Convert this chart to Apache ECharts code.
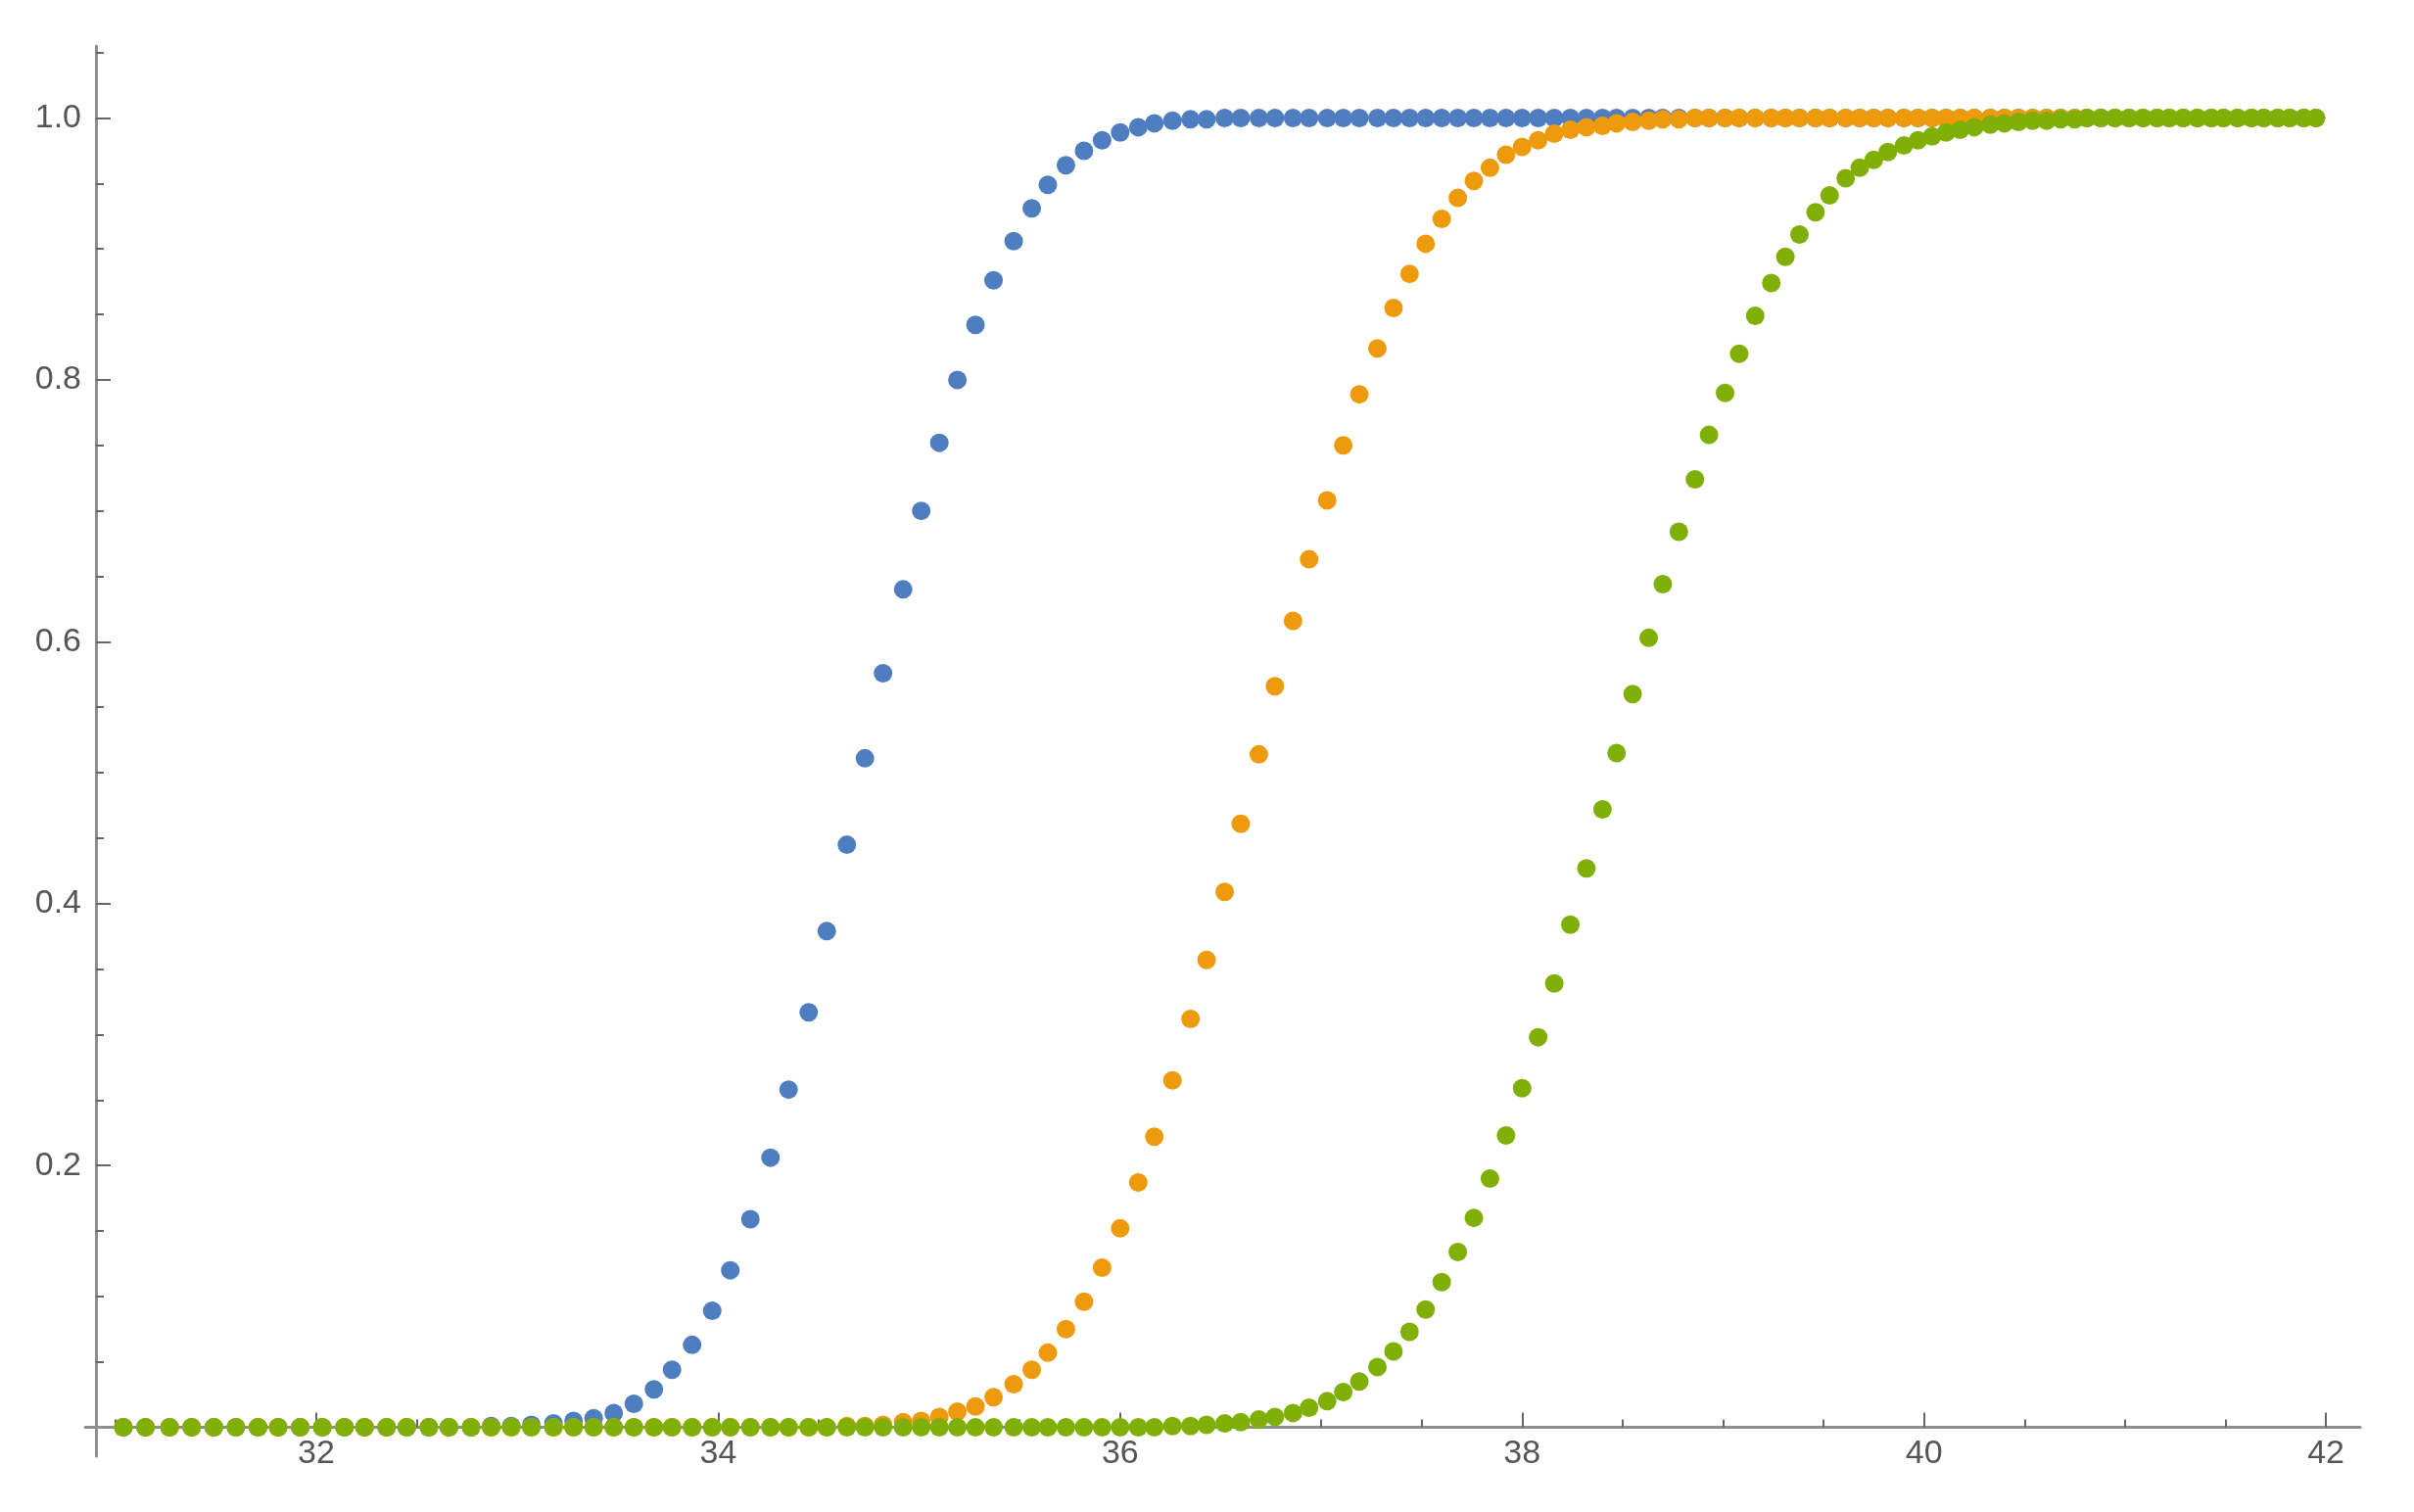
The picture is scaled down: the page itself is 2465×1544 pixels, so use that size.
<!DOCTYPE html>
<html>
<head>
<meta charset="utf-8">
<title>Three CDF point series</title>
<script src="https://cdn.jsdelivr.net/npm/echarts@6/dist/echarts.min.js"></script>
<style>
  html, body { margin: 0; padding: 0; background: #fff; }
  #chart { width: 2465px; height: 1544px; }
</style>
</head>
<body>
<div id="chart"></div>
<script>
// x positions of the sample points (shared by all three series)
var xValues = [
  31.04, 31.15, 31.27, 31.38, 31.49, 31.60, 31.71, 31.81, 31.92, 32.03,
  32.14, 32.24, 32.35, 32.45, 32.56, 32.66, 32.77, 32.87, 32.97, 33.07,
  33.18, 33.28, 33.38, 33.48, 33.58, 33.68, 33.77, 33.87, 33.97, 34.06,
  34.16, 34.26, 34.35, 34.45, 34.54, 34.64, 34.73, 34.82, 34.92, 35.01,
  35.10, 35.19, 35.28, 35.37, 35.47, 35.56, 35.64, 35.73, 35.82, 35.91,
  36.00, 36.09, 36.17, 36.26, 36.35, 36.43, 36.52, 36.60, 36.69, 36.77,
  36.86, 36.94, 37.03, 37.11, 37.19, 37.28, 37.36, 37.44, 37.52, 37.60,
  37.68, 37.76, 37.84, 37.92, 38.00, 38.08, 38.16, 38.24, 38.32, 38.40,
  38.47, 38.55, 38.63, 38.70, 38.78, 38.86, 38.93, 39.01, 39.08, 39.16,
  39.24, 39.31, 39.38, 39.46, 39.53, 39.61, 39.68, 39.75, 39.82, 39.90,
  39.97, 40.04, 40.11, 40.18, 40.25, 40.33, 40.40, 40.47, 40.54, 40.61,
  40.68, 40.75, 40.81, 40.88, 40.95, 41.02, 41.09, 41.16, 41.22, 41.29,
  41.36, 41.43, 41.49, 41.56, 41.63, 41.69, 41.76, 41.82, 41.89, 41.95
];

var blueValues = [
  0, 0, 0, 0, 0, 0, 0, 0, 0, 0,
  0, 0, 0, 0, 0, 0, 0, 0.001, 0.001, 0.002,
  0.003, 0.005, 0.007, 0.011, 0.018, 0.029, 0.044, 0.063, 0.089, 0.120,
  0.159, 0.206, 0.258, 0.317, 0.379, 0.445, 0.511, 0.576, 0.640, 0.700,
  0.752, 0.800, 0.842, 0.876, 0.906, 0.931, 0.949, 0.964, 0.975, 0.983,
  0.989, 0.993, 0.996, 0.998, 0.999, 0.999, 1, 1, 1, 1,
  1, 1, 1, 1, 1, 1, 1, 1, 1, 1,
  1, 1, 1, 1, 1, 1, 1, 1, 1, 1,
  1, 1, 1, 1, 1, 1, 1, 1, 1, 1,
  1, 1, 1, 1, 1, 1, 1, 1, 1, 1,
  1, 1, 1, 1, 1, 1, 1, 1, 1, 1,
  1, 1, 1, 1, 1, 1, 1, 1, 1, 1,
  1, 1, 1, 1, 1, 1, 1, 1, 1, 1
];

var orangeValues = [
  0, 0, 0, 0, 0, 0, 0, 0, 0, 0,
  0, 0, 0, 0, 0, 0, 0, 0, 0, 0,
  0, 0, 0, 0, 0, 0, 0, 0, 0, 0,
  0, 0, 0, 0, 0, 0.001, 0.001, 0.002, 0.004, 0.005,
  0.008, 0.012, 0.016, 0.023, 0.033, 0.044, 0.057, 0.075, 0.096, 0.122,
  0.152, 0.187, 0.222, 0.265, 0.312, 0.357, 0.409, 0.461, 0.514, 0.566,
  0.616, 0.663, 0.708, 0.750, 0.789, 0.824, 0.855, 0.881, 0.904, 0.923,
  0.939, 0.952, 0.962, 0.972, 0.978, 0.983, 0.988, 0.991, 0.993, 0.994,
  0.996, 0.997, 0.998, 0.999, 0.999, 1, 1, 1, 1, 1,
  1, 1, 1, 1, 1, 1, 1, 1, 1, 1,
  1, 1, 1, 1, 1, 1, 1, 1, 1, 1,
  1, 1, 1, 1, 1, 1, 1, 1, 1, 1,
  1, 1, 1, 1, 1, 1, 1, 1, 1, 1
];

var greenValues = [
  0, 0, 0, 0, 0, 0, 0, 0, 0, 0,
  0, 0, 0, 0, 0, 0, 0, 0, 0, 0,
  0, 0, 0, 0, 0, 0, 0, 0, 0, 0,
  0, 0, 0, 0, 0, 0, 0, 0, 0, 0,
  0, 0, 0, 0, 0, 0, 0, 0, 0, 0,
  0, 0, 0, 0.001, 0.001, 0.002, 0.003, 0.004, 0.006, 0.008,
  0.011, 0.015, 0.020, 0.027, 0.035, 0.046, 0.058, 0.073, 0.090, 0.111,
  0.134, 0.160, 0.190, 0.223, 0.259, 0.298, 0.339, 0.384, 0.427, 0.472,
  0.515, 0.560, 0.603, 0.644, 0.684, 0.724, 0.758, 0.790, 0.820, 0.849,
  0.874, 0.894, 0.911, 0.928, 0.941, 0.954, 0.962, 0.968, 0.974, 0.979,
  0.983, 0.986, 0.989, 0.991, 0.993, 0.995, 0.996, 0.997, 0.998, 0.998,
  0.999, 0.999, 1, 1, 1, 1, 1, 1, 1, 1,
  1, 1, 1, 1, 1, 1, 1, 1, 1, 1
];

var xMajorTicks = [32, 34, 36, 38, 40, 42];
var xMinorTicks = [31, 31.5, 32.5, 33, 33.5, 34.5, 35, 35.5, 36.5, 37, 37.5,
                   38.5, 39, 39.5, 40.5, 41, 41.5];
var yMajorTicks = [0.2, 0.4, 0.6, 0.8, 1.0];
var yMinorTicks = [0.05, 0.1, 0.15, 0.25, 0.3, 0.35, 0.45, 0.5, 0.55, 0.65, 0.7,
                   0.75, 0.85, 0.9, 0.95, 1.05];

var colors = ["#4e7ec0", "#ed9a0c", "#80b008"];

function pairs(ys) {
  return xValues.map(function (x, i) {
    return [x, ys[i]];
  });
}

var chart = echarts.init(document.getElementById("chart"));

var labelStyle = {
  color: "#555",
  fontSize: 34,
  fontFamily: "Liberation Sans, Arial, sans-serif"
};

function xAxis(ticks, len, showLine, showLabel) {
  return {
    type: "value",
    position: "bottom",
    min: 30.85,
    max: 42.17,
    axisLine: {
      show: showLine,
      onZero: true,
      lineStyle: { color: "#8e8e8e", width: 3 }
    },
    axisTick: {
      show: true,
      inside: true,
      length: len,
      customValues: ticks,
      lineStyle: { color: "#666", width: 2 }
    },
    // labels stay at the grid bottom, so pull them up to the zero line
    axisLabel: Object.assign({
      show: showLabel,
      margin: -19,
      customValues: ticks,
      formatter: function (v) { return String(v); }
    }, labelStyle),
    splitLine: { show: false }
  };
}

function yAxis(ticks, len, showLine, showLabel) {
  return {
    type: "value",
    position: "left",
    offset: -11,
    min: -0.022,
    max: 1.055,
    axisLine: {
      show: showLine,
      onZero: false,
      lineStyle: { color: "#8e8e8e", width: 3 }
    },
    axisTick: {
      show: true,
      inside: true,
      length: len,
      customValues: ticks,
      lineStyle: { color: "#666", width: 2 }
    },
    axisLabel: Object.assign({
      show: showLabel,
      margin: 15,
      customValues: ticks,
      formatter: function (v) { return v.toFixed(1); }
    }, labelStyle),
    splitLine: { show: false }
  };
}

function series(name, ys, color) {
  return {
    name: name,
    type: "scatter",
    xAxisIndex: 0,
    yAxisIndex: 0,
    symbol: "circle",
    symbolSize: 19,
    itemStyle: { color: color, opacity: 1 },
    data: pairs(ys)
  };
}

var option = {
  backgroundColor: "#fff",
  animation: false,
  grid: { left: 87, right: 55, top: 47, bottom: 57, containLabel: false },
  xAxis: [
    xAxis(xMajorTicks, 15, true, true),
    xAxis(xMinorTicks, 8, false, false)
  ],
  yAxis: [
    yAxis(yMajorTicks, 15, true, true),
    yAxis(yMinorTicks, 8, false, false)
  ],
  series: [
    series("blue", blueValues, colors[0]),
    series("orange", orangeValues, colors[1]),
    series("green", greenValues, colors[2])
  ]
};

chart.setOption(option);
</script>
</body>
</html>
